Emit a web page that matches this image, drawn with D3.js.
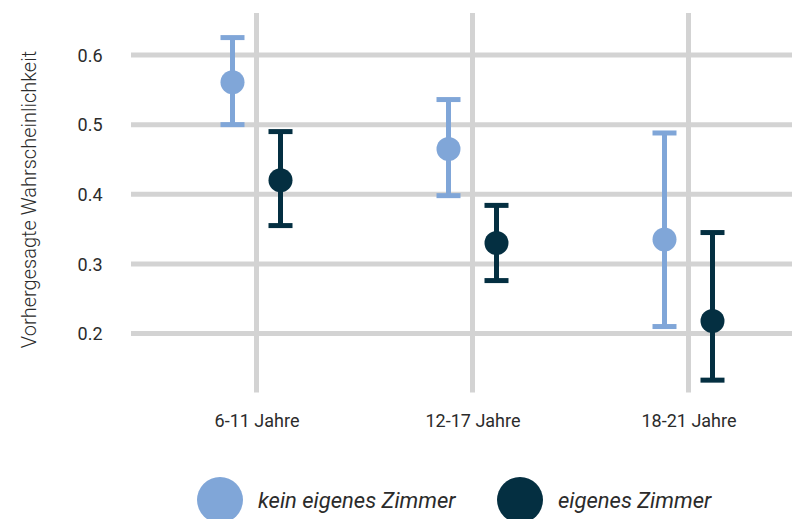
<!DOCTYPE html>
<html>
<head>
<meta charset="utf-8">
<script src="https://cdn.jsdelivr.net/npm/d3@7"></script>
<style>
  body { margin: 0; background: #fff; }
  text { font-family: Roboto, "Noto Sans", sans-serif; fill: #2b2b2b; }
</style>
</head>
<body>
<div id="chart"></div>
<script>
// data
var groups = ["6-11 Jahre", "12-17 Jahre", "18-21 Jahre"];
var series = ["kein eigenes Zimmer", "eigenes Zimmer"];
var colors = ["#80a6d8", "#042f41"];
var yTicks = [0.2, 0.3, 0.4, 0.5, 0.6];

var estKein   = [0.561, 0.465, 0.335];
var lowKein   = [0.500, 0.398, 0.210];
var highKein  = [0.625, 0.536, 0.488];
var estEigen  = [0.420, 0.330, 0.218];
var lowEigen  = [0.355, 0.276, 0.133];
var highEigen = [0.490, 0.384, 0.345];

var width = 792, height = 519;
var panel = {left: 131, right: 792, top: 13, bottom: 392.5};

var rows = [];
groups.forEach(function(g, i){
  rows.push({group: g, s: 0, est: estKein[i], lo: lowKein[i], hi: highKein[i]});
  rows.push({group: g, s: 1, est: estEigen[i], lo: lowEigen[i], hi: highEigen[i]});
});

var svg = d3.select("#chart").append("svg")
  .attr("width", width).attr("height", height);

var x = d3.scalePoint().domain(groups).range([256.5, 688.5]);
var dodge = d3.scalePoint().domain([0, 1]).range([-24, 24]);
var y = d3.scaleLinear().domain([0.2, 0.6]).range([333.5, 55]);

// grid
svg.append("g").selectAll("line.h")
  .data(yTicks).enter().append("line")
  .attr("x1", panel.left).attr("x2", panel.right)
  .attr("y1", function(d){ return y(d); })
  .attr("y2", function(d){ return y(d); })
  .style("stroke", "#d3d3d3").style("stroke-width", 5);

svg.append("g").selectAll("line.v")
  .data(groups).enter().append("line")
  .attr("x1", function(d){ return x(d); })
  .attr("x2", function(d){ return x(d); })
  .attr("y1", panel.top).attr("y2", panel.bottom)
  .style("stroke", "#d3d3d3").style("stroke-width", 5);

// axes (labels only)
var yAxis = svg.append("g")
  .attr("transform", "translate(" + 102.5 + ",0)")
  .call(d3.axisLeft(y).tickValues(yTicks).tickSize(0).tickPadding(0)
    .tickFormat(d3.format(".1f")));
yAxis.select(".domain").remove();
yAxis.selectAll("text").style("font-size", "18px").attr("dy", "0.35em");

var xAxis = svg.append("g")
  .attr("transform", "translate(0," + 426.5 + ")")
  .call(d3.axisBottom(x).tickSize(0).tickPadding(0));
xAxis.select(".domain").remove();
xAxis.selectAll("text").style("font-size", "18px").attr("y", 0).attr("dy", 0);

svg.append("text")
  .attr("transform", "translate(36," + 199.5 + ") rotate(-90)")
  .attr("text-anchor", "middle")
  .style("font-size", "20px")
  .style("font-weight", 300)
  .text("Vorhergesagte Wahrscheinlichkeit");

// error bars
var bars = svg.append("g").selectAll("g.bar")
  .data(rows).enter().append("g")
  .attr("transform", function(d){ return "translate(" + (x(d.group) + dodge(d.s)) + ",0)"; })
  .style("stroke", function(d){ return colors[d.s]; })
  .style("stroke-width", 5);

bars.append("line")
  .attr("y1", function(d){ return y(d.lo); })
  .attr("y2", function(d){ return y(d.hi); });
bars.append("line")
  .attr("x1", -12).attr("x2", 12)
  .attr("y1", function(d){ return y(d.hi); })
  .attr("y2", function(d){ return y(d.hi); });
bars.append("line")
  .attr("x1", -12).attr("x2", 12)
  .attr("y1", function(d){ return y(d.lo); })
  .attr("y2", function(d){ return y(d.lo); });
bars.append("circle")
  .attr("cy", function(d){ return y(d.est); })
  .attr("r", 12)
  .style("stroke", "none")
  .style("fill", function(d){ return colors[d.s]; });

// legend
var legX = [220, 520];
var leg = svg.append("g").selectAll("g.leg")
  .data(series).enter().append("g")
  .attr("transform", function(d, i){ return "translate(" + legX[i] + ",500)"; });
leg.append("circle").attr("r", 23)
  .style("fill", function(d, i){ return colors[i]; });
leg.append("text")
  .attr("x", 38).attr("dy", "0.35em")
  .style("font-size", "22px").style("font-style", "italic")
  .text(function(d){ return d; });
</script>
</body>
</html>
